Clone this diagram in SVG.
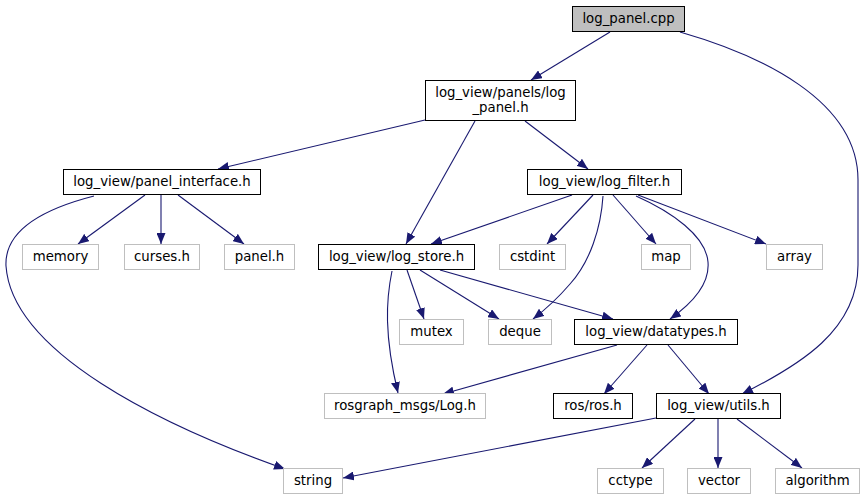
<svg xmlns="http://www.w3.org/2000/svg" width="865" height="500" viewBox="0 0 865 500">
<defs>
<style>
.n rect{fill:#fff;stroke:#000;stroke-width:1}
.g rect{fill:#fff;stroke:#bfbfbf;stroke-width:1}
.root rect{fill:#bfbfbf;stroke:#000;stroke-width:1}
text{font-family:"DejaVu Sans","Liberation Sans",sans-serif;font-size:13.3px;fill:#000;text-anchor:middle}
.e path{fill:none;stroke:#191970;stroke-width:1.1;marker-end:url(#ah)}
</style>
<marker id="ah" markerUnits="userSpaceOnUse" markerWidth="12" markerHeight="9" refX="11" refY="4.5" orient="auto">
<path d="M0,0 L11,4.5 L0,9 z" fill="#191970"/>
</marker>
</defs>
<rect width="865" height="500" fill="#fff"/>
<g class="e" id="connectors">
<path d="M610,32 L531,80"/>
<path d="M680,32 C760,55 858,100 858,180 L858,265 C858,330 800,365 742,394"/>
<path d="M425,120 L218,169"/>
<path d="M475,121 L406,244"/>
<path d="M525,121 L588,169"/>
<path d="M145,195 L78,244"/>
<path d="M161,195 L161,244"/>
<path d="M178,195 L244,244"/>
<path d="M94,196 C55,206 4,226 6,266 C12,352 160,425 285,469"/>
<path d="M572,195 L431,244"/>
<path d="M593,195 L547,244"/>
<path d="M603,196 C601,228 590,262 570,284 C558,298 546,309 533,319"/>
<path d="M613,195 L656,244"/>
<path d="M638,195 L766,244"/>
<path d="M636,196 C672,212 706,236 708,262 C710,285 690,305 670,319"/>
<path d="M407,270 L424,319"/>
<path d="M420,270 L499,319"/>
<path d="M440,270 L613,319"/>
<path d="M392,271 C386,300 384,335 398,393"/>
<path d="M617,345 L443,394"/>
<path d="M647,345 L604,394"/>
<path d="M668,345 L709,394"/>
<path d="M656,418 L343,478"/>
<path d="M695,419 L642,468"/>
<path d="M718,419 L718,468"/>
<path d="M737,419 L802,468"/>
</g>
<g id="log_panel_cpp" class="root"><rect x="572.5" y="6.5" width="112" height="25"/><text x="628.5" y="23">log_panel.cpp</text></g>
<g id="log_panel_h" class="n"><rect x="425.5" y="80.5" width="150" height="40"/><text x="500.5" y="96.5">log_view/panels/log</text><text x="500.5" y="111.5">_panel.h</text></g>
<g id="panel_interface_h" class="n"><rect x="63.5" y="169.5" width="197" height="25"/><text x="162" y="186">log_view/panel_interface.h</text></g>
<g id="log_filter_h" class="n"><rect x="527.5" y="169.5" width="154" height="25"/><text x="604.5" y="186">log_view/log_filter.h</text></g>
<g id="memory" class="g"><rect x="22.5" y="244.5" width="76" height="25"/><text x="60.5" y="261">memory</text></g>
<g id="curses_h" class="g"><rect x="124.5" y="244.5" width="75" height="25"/><text x="162" y="261">curses.h</text></g>
<g id="panel_h" class="g"><rect x="224.5" y="244.5" width="70" height="25"/><text x="259.5" y="261">panel.h</text></g>
<g id="log_store_h" class="n"><rect x="318.5" y="244.5" width="156" height="25"/><text x="396.5" y="261">log_view/log_store.h</text></g>
<g id="cstdint" class="g"><rect x="499.5" y="244.5" width="66" height="25"/><text x="532.5" y="261">cstdint</text></g>
<g id="map" class="g"><rect x="641.5" y="244.5" width="49" height="25"/><text x="666" y="261">map</text></g>
<g id="array" class="g"><rect x="766.5" y="244.5" width="56" height="25"/><text x="794.5" y="261">array</text></g>
<g id="mutex" class="g"><rect x="399.5" y="319.5" width="64" height="25"/><text x="431.5" y="336">mutex</text></g>
<g id="deque" class="g"><rect x="488.5" y="319.5" width="63" height="25"/><text x="520" y="336">deque</text></g>
<g id="datatypes_h" class="n"><rect x="574.5" y="319.5" width="163" height="25"/><text x="656" y="336">log_view/datatypes.h</text></g>
<g id="rosgraph_log_h" class="g"><rect x="324.5" y="393.5" width="161" height="25"/><text x="405" y="410">rosgraph_msgs/Log.h</text></g>
<g id="ros_h" class="n"><rect x="553.5" y="393.5" width="79" height="25"/><text x="593" y="410">ros/ros.h</text></g>
<g id="utils_h" class="n"><rect x="656.5" y="393.5" width="124" height="25"/><text x="718.5" y="410">log_view/utils.h</text></g>
<g id="string" class="g"><rect x="283.5" y="468.5" width="59" height="25"/><text x="313" y="485">string</text></g>
<g id="cctype" class="g"><rect x="597.5" y="468.5" width="66" height="25"/><text x="630.5" y="485">cctype</text></g>
<g id="vector" class="g"><rect x="687.5" y="468.5" width="63" height="25"/><text x="719" y="485">vector</text></g>
<g id="algorithm" class="g"><rect x="775.5" y="468.5" width="84" height="25"/><text x="817.5" y="485">algorithm</text></g>
</svg>
